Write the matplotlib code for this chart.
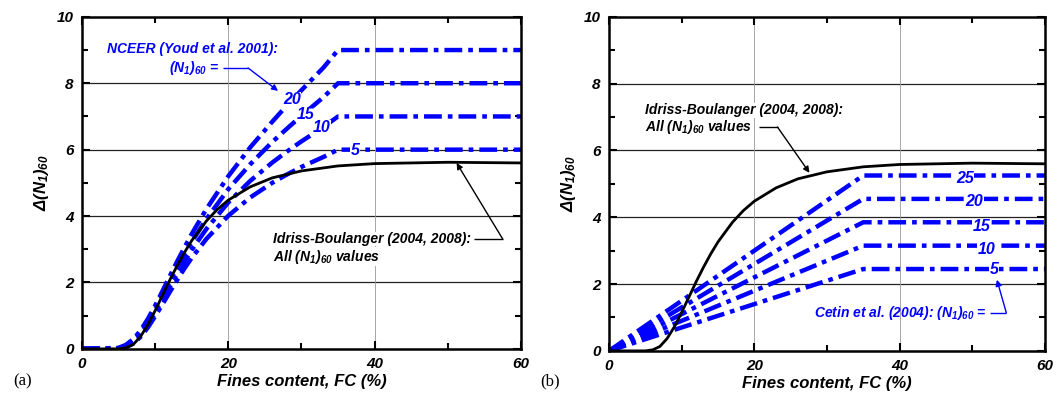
import matplotlib
matplotlib.use("Agg")
import matplotlib.pyplot as plt
from matplotlib.ticker import MultipleLocator

plt.rcParams["font.family"] = "Liberation Sans"
plt.rcParams["font.weight"] = "bold"
plt.rcParams["font.style"] = "italic"
plt.rcParams["axes.labelweight"] = "bold"
plt.rcParams["mathtext.fontset"] = "custom"
plt.rcParams["mathtext.rm"] = "Liberation Sans:bold:italic"
plt.rcParams["mathtext.it"] = "Liberation Sans:bold:italic"
plt.rcParams["mathtext.bf"] = "Liberation Sans:bold:italic"

BLUE = "#0000ff"

# NCEER (Youd et al. 2001) curves, one per (N1)60 value
FC_NCEER = [0, 5, 6, 7, 8, 9, 10, 11, 12, 13, 14, 15, 17, 20, 23, 26, 28, 30, 33, 35, 60]
NCEER_5 = [0, 0.01, 0.05, 0.16, 0.36, 0.64, 0.98, 1.34, 1.71, 2.07, 2.42, 2.74, 3.31,
           4.01, 4.56, 5.00, 5.25, 5.48, 5.78, 6.0, 6.0]
NCEER_10 = [0, 0.02, 0.08, 0.21, 0.43, 0.73, 1.09, 1.47, 1.87, 2.26, 2.63, 2.98, 3.61,
            4.41, 5.06, 5.61, 5.94, 6.25, 6.68, 7.0, 7.0]
NCEER_15 = [0, 0.02, 0.10, 0.25, 0.49, 0.81, 1.19, 1.61, 2.03, 2.44, 2.84, 3.22, 3.91,
            4.81, 5.56, 6.23, 6.63, 7.02, 7.58, 8.0, 8.0]
NCEER_20 = [0, 0.03, 0.12, 0.29, 0.55, 0.90, 1.30, 1.74, 2.19, 2.63, 3.05, 3.46, 4.21,
            5.20, 6.07, 6.84, 7.33, 7.79, 8.47, 9.0, 9.0]
NCEER_N = ["5", "10", "15", "20"]

# Idriss-Boulanger (2004, 2008), same for all (N1)60
FC_IB = [0, 5, 6, 7, 8, 9, 10, 11, 12, 13, 14, 15, 17, 18.5, 20, 23, 26, 30, 35, 40, 50, 60]
IB = [0, 0.0, 0.03, 0.13, 0.37, 0.72, 1.15, 1.61, 2.07, 2.50, 2.90, 3.26, 3.85, 4.20,
      4.48, 4.88, 5.15, 5.36, 5.51, 5.58, 5.62, 5.60]

# Cetin et al. (2004)
FC_CETIN = [0, 35, 60]
CETIN_N = ["5", "10", "15", "20", "25"]
CETIN_PLATEAU = [2.45, 3.15, 3.85, 4.55, 5.25]

DASHDOT = (0, (4.0, 1.35, 1.05, 1.35))
NOTE_SIZE = 10
WHITE_BOX = dict(facecolor="white", edgecolor="none", pad=0.3)


def style_axes(ax):
    ax.set_xlim(0, 60)
    ax.set_ylim(0, 10)
    ax.xaxis.set_major_locator(MultipleLocator(20))
    ax.xaxis.set_minor_locator(MultipleLocator(10))
    ax.yaxis.set_major_locator(MultipleLocator(2))
    ax.yaxis.set_minor_locator(MultipleLocator(1))
    ax.tick_params(which="both", direction="in", top=True, right=True, width=1.5,
                   labelsize=11)
    ax.tick_params(which="major", length=6, pad=6)
    ax.tick_params(which="minor", length=4)
    for sp in ax.spines.values():
        sp.set_linewidth(1.8)
    for y in [2, 4, 6, 8]:
        ax.axhline(y, color="#222222", lw=0.9, zorder=0)
    for x in [20, 40]:
        ax.axvline(x, color="#999999", lw=0.6, zorder=0)
    ax.set_xlabel("Fines content, FC (%)", fontsize=12, labelpad=2)
    ax.set_ylabel(r"$\Delta(N_1)_{60}$", fontsize=12, labelpad=4)


def leader(ax, pts, color):
    # horizontal leader line followed by an arrow to the curve
    (x0, y0), (x1, y1), (x2, y2) = pts
    ax.plot([x0, x1], [y0, y1], color=color, lw=1.0, solid_capstyle="butt")
    ax.annotate("", xy=(x2, y2), xytext=(x1, y1),
                arrowprops=dict(arrowstyle="-|>", color=color, lw=1.0,
                                mutation_scale=9, shrinkA=0, shrinkB=0))


fig = plt.figure(figsize=(10.63, 4.01), dpi=100)
ax1 = fig.add_axes([0.0771, 0.130, 0.413, 0.828])
ax2 = fig.add_axes([0.5729, 0.125, 0.410, 0.833])

# ---- panel (a) ----
style_axes(ax1)
for ys in [NCEER_5, NCEER_10, NCEER_15, NCEER_20]:
    ax1.plot(FC_NCEER, ys, color=BLUE, lw=3.2, linestyle=DASHDOT)
ax1.plot(FC_IB, IB, color="black", lw=2.0)

ax1.text(15.1, 9.04, "NCEER (Youd et al. 2001):", color=BLUE, fontsize=NOTE_SIZE,
         ha="center", va="center")
ax1.text(18.8, 8.46, r"(N$_1$)$_{60}$ =", color=BLUE, fontsize=NOTE_SIZE,
         ha="right", va="center")
leader(ax1, [(19.3, 8.46), (22.7, 8.46), (26.8, 7.77)], BLUE)
for lab, x, y in zip(NCEER_N, [37.3, 32.8, 30.5, 28.7], [5.97, 6.66, 7.05, 7.5]):
    ax1.text(x, y, lab, color=BLUE, fontsize=11.5, ha="center", va="center",
             bbox=WHITE_BOX)

ax1.text(26.1, 3.31, "Idriss-Boulanger (2004, 2008):", color="black",
         fontsize=NOTE_SIZE, ha="left", va="center", bbox=WHITE_BOX)
ax1.text(26.1, 2.77, r"All (N$_1$)$_{60}$ values", color="black", fontsize=NOTE_SIZE,
         ha="left", va="center", bbox=WHITE_BOX)
leader(ax1, [(53.6, 3.31), (57.5, 3.31), (51.2, 5.6)], "black")

# ---- panel (b) ----
style_axes(ax2)
for v in CETIN_PLATEAU:
    ax2.plot(FC_CETIN, [0, v, v], color=BLUE, lw=3.2, linestyle=DASHDOT)
ax2.plot(FC_IB, IB, color="black", lw=2.0)

label_x = [53.0, 52.0, 51.3, 50.3, 49.0]
label_y = [2.43, 3.02, 3.71, 4.46, 5.15]
for lab, x, y in zip(CETIN_N, label_x, label_y):
    ax2.text(x, y, lab, color=BLUE, fontsize=11.5, ha="center", va="center",
             bbox=WHITE_BOX)

ax2.text(4.95, 7.2, "Idriss-Boulanger (2004, 2008):", color="black",
         fontsize=NOTE_SIZE, ha="left", va="center", bbox=WHITE_BOX)
ax2.text(4.95, 6.7, r"All (N$_1$)$_{60}$ values", color="black", fontsize=NOTE_SIZE,
         ha="left", va="center", bbox=WHITE_BOX)
leader(ax2, [(20.6, 6.7), (23.2, 6.7), (27.6, 5.33)], "black")

ax2.text(52.0, 1.14, r"Cetin et al. (2004): (N$_1$)$_{60}$ =", color=BLUE,
         fontsize=NOTE_SIZE, ha="right", va="center")
leader(ax2, [(52.4, 1.14), (54.7, 1.14), (53.4, 2.13)], BLUE)

fig.text(0.012, 0.04, "(a)", family="Liberation Serif", style="normal",
         weight="normal", fontsize=12)
fig.text(0.508, 0.04, "(b)", family="Liberation Serif", style="normal",
         weight="normal", fontsize=12)

fig.savefig("out.png", dpi=100)
